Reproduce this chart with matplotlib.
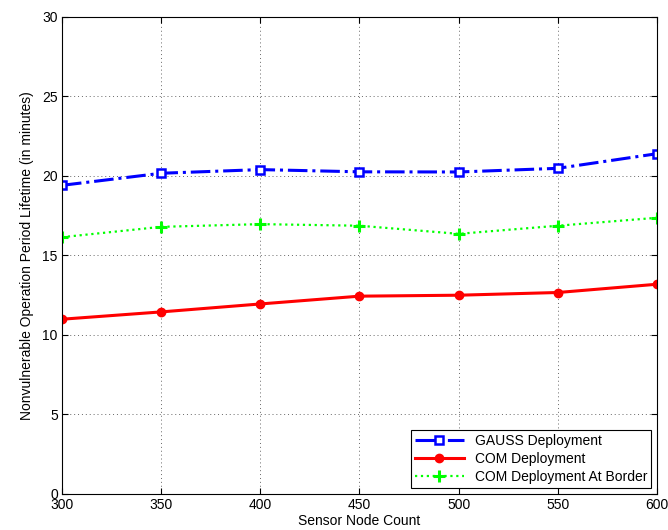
import matplotlib
matplotlib.use("Agg")
import matplotlib.pyplot as plt

plt.rcParams['font.family'] = ['Liberation Sans', 'DejaVu Sans']

node_counts = [300, 350, 400, 450, 500, 550, 600]
gauss = [19.41, 20.17, 20.40, 20.26, 20.25, 20.48, 21.40]
com = [10.99, 11.45, 11.95, 12.44, 12.50, 12.67, 13.19]
com_border = [16.15, 16.80, 16.97, 16.87, 16.36, 16.87, 17.37]

y_ticks = [0, 5, 10, 15, 20, 25, 30]

fig = plt.figure(figsize=(6.68, 5.30), dpi=100)
ax = fig.add_axes([0.0928, 0.068, 0.8907, 0.900])

ax.plot(node_counts, gauss, color='#0000ff', linestyle='-.', linewidth=2.2,
        marker='s', markersize=6, markerfacecolor='white', markeredgecolor='#0000ff',
        markeredgewidth=1.8, label='GAUSS Deployment')
ax.plot(node_counts, com, color='#ff0000', linestyle='-', linewidth=2.2,
        marker='o', markersize=6, markerfacecolor='#ff0000', markeredgecolor='#ff0000',
        label='COM Deployment')
ax.plot(node_counts, com_border, color='#00ff00', linestyle=':', linewidth=1.6,
        marker='+', markersize=8, markeredgewidth=2.2, markeredgecolor='#00ff00',
        label='COM Deployment At Border')

ax.set_xlim(300, 600)
ax.set_ylim(0, 30)
ax.set_xticks(node_counts)
ax.set_yticks(y_ticks)
ax.tick_params(direction='in', length=4, width=0.8, labelsize=10, top=True, right=True,
               pad=3)
ax.grid(True, color='black', linestyle=(0, (1, 3)), linewidth=0.7, alpha=0.6)
for s in ax.spines.values():
    s.set_linewidth(0.8)

ax.set_xlabel('Sensor Node Count', fontsize=10, labelpad=1)
ax.set_ylabel('Nonvulnerable Operation Period Lifetime (in minutes)', fontsize=10, labelpad=6)

leg = ax.legend(loc='lower right', fontsize=10, fancybox=False, framealpha=1,
                edgecolor='black', borderaxespad=0.4, handlelength=3.5,
                labelspacing=0.3, borderpad=0.3)
leg.get_frame().set_linewidth(0.8)

fig.savefig('out.png', dpi=100)
